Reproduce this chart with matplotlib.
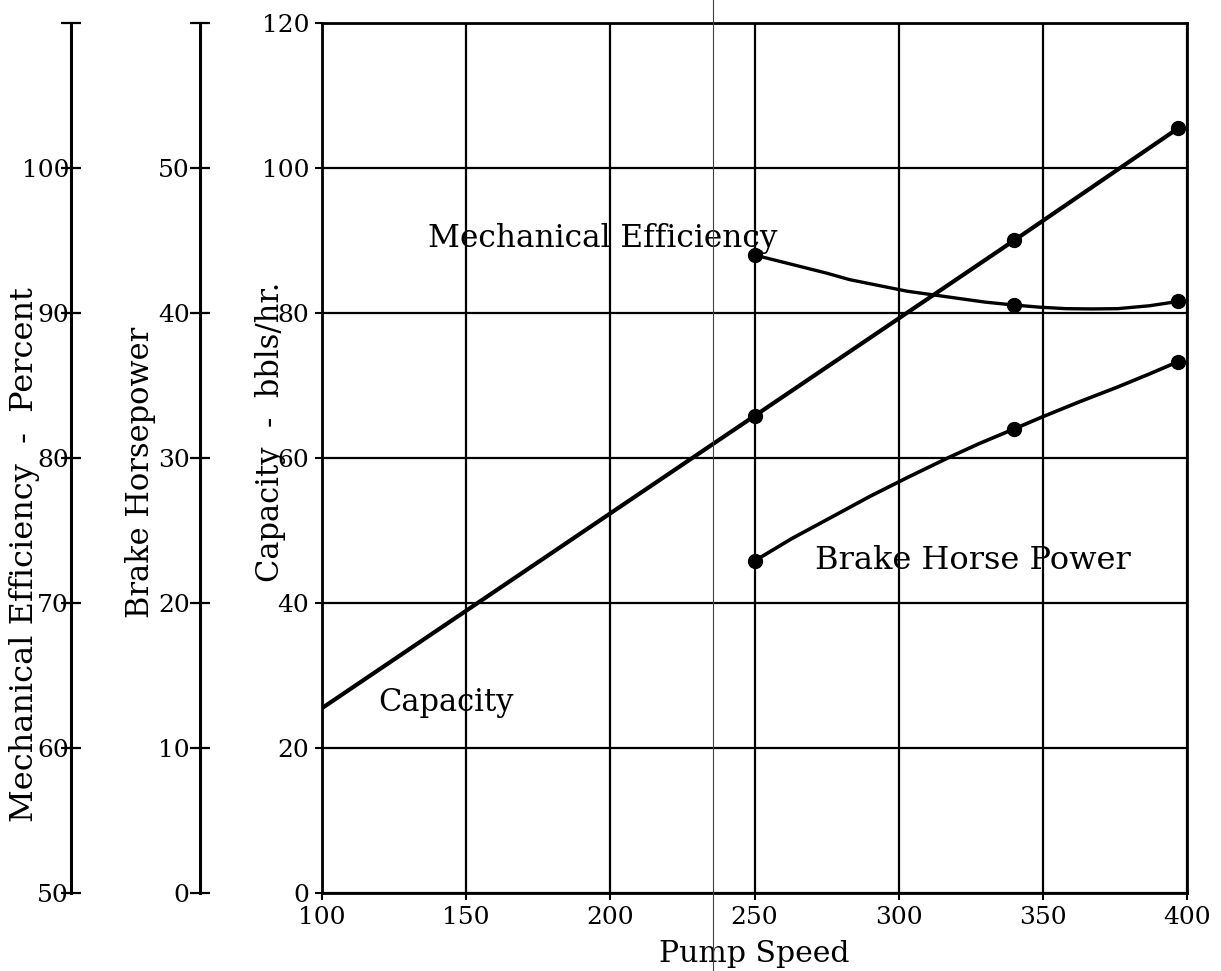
import matplotlib
matplotlib.use("Agg")
import matplotlib.pyplot as plt
from matplotlib.lines import Line2D

# values
speed_marks = [250, 340, 397]
capacity_speed = [100, 250, 340, 397]
capacity = [25.5, 65.8, 90.0, 105.5]            # bbls/hr
capacity_marks = [65.8, 90.0, 105.5]
eff_speed = [250, 258, 266, 275, 283, 293, 303, 312, 321, 330, 340, 349, 358, 367, 376, 387, 397]
efficiency = [94.0, 93.6, 93.2, 92.75, 92.3, 91.9, 91.5, 91.25, 91.0, 90.75,
              90.55, 90.4, 90.3, 90.28, 90.3, 90.5, 90.8]  # percent
eff_marks = [94.0, 90.55, 90.8]
bhp_speed = [250, 263, 277, 290, 303, 317, 328, 340, 350, 363, 376, 387, 397]
bhp = [22.9, 24.45, 25.95, 27.35, 28.65, 30.0, 31.0, 32.0, 32.85, 33.9, 34.9, 35.8, 36.65]
bhp_marks = [22.9, 32.0, 36.65]

x_ticks = [100, 150, 200, 250, 300, 350, 400]
cap_ticks = [0, 20, 40, 60, 80, 100, 120]
bhp_ticks = [0, 10, 20, 30, 40, 50, 60]
bhp_labels = ['0', '10', '20', '30', '40', '50', '']
eff_ticks = [50, 60, 70, 80, 90, 100, 110]
eff_labels = ['50', '60', '70', '80', '90', '100', '']

plt.rcParams['font.family'] = ['DejaVu Serif']
TICK = 18
TEXT = 22.5

fig = plt.figure(figsize=(12.21, 9.71), dpi=100)
ax = fig.add_axes([322 / 1221, 1 - 893 / 971, 865 / 1221, 870 / 971])
ax.set_xlim(100, 400)
ax.set_ylim(0, 120)
ax.set_xticks(x_ticks)
ax.set_yticks(cap_ticks)
ax.grid(True, color='black', lw=1.6)
for s in ax.spines.values():
    s.set_linewidth(2.0)
ax.tick_params(labelsize=TICK, length=5, width=1.5, pad=4)
ax.set_xlabel('Pump Speed', fontsize=21.5, labelpad=8)

# capacity (main scale)
ax.plot(capacity_speed, capacity, color='black', lw=3.0, solid_capstyle='butt')
ax.plot(speed_marks, capacity_marks, 'o', color='black', ms=10)


def side_axis(pos, lo, hi, ticks, labels, pad):
    t = ax.twinx()
    t.set_ylim(lo, hi)
    for s in t.spines.values():
        s.set_visible(False)
    t.spines['left'].set_visible(True)
    t.spines['left'].set_linewidth(2.2)
    t.spines['left'].set_position(('axes', pos))
    t.yaxis.set_ticks_position('left')
    t.set_yticks(ticks)
    t.set_yticklabels(labels)
    t.tick_params(direction='inout', length=15, width=1.6, labelsize=TICK, pad=pad)
    return t


eff_ax = side_axis(-0.290, 50, 110, eff_ticks, eff_labels, -6)
bhp_ax = side_axis(-0.141, 0, 60, bhp_ticks, bhp_labels, 0)

eff_ax.plot(eff_speed, efficiency, color='black', lw=2.4)
eff_ax.plot(speed_marks, eff_marks, 'o', color='black', ms=10)
bhp_ax.plot(bhp_speed, bhp, color='black', lw=2.6)
bhp_ax.plot(speed_marks, bhp_marks, 'o', color='black', ms=10)

# curve names
ax.text(136.8, 90.3, 'Mechanical Efficiency', fontsize=TEXT, va='center')
ax.text(119.4, 26.3, 'Capacity', fontsize=22, va='center')
ax.text(271, 45.9, 'Brake Horse Power', fontsize=23, va='center')

# axis titles
fig.text(25 / 1221, 1 - 555 / 971, 'Mechanical Efficiency  -  Percent',
         rotation=90, fontsize=23, ha='center', va='center')
fig.text(140 / 1221, 1 - 472 / 971, 'Brake Horsepower',
         rotation=90, fontsize=22, ha='center', va='center')
fig.text(270 / 1221, 1 - 432 / 971, 'Capacity  -  bbls/hr.',
         rotation=90, fontsize=22, ha='center', va='center')

# thin scan line across the page
fig.add_artist(Line2D([713 / 1221, 713 / 1221], [0, 1], transform=fig.transFigure,
                      lw=0.8, color='0.25'))

fig.savefig('out.png', dpi=100)
